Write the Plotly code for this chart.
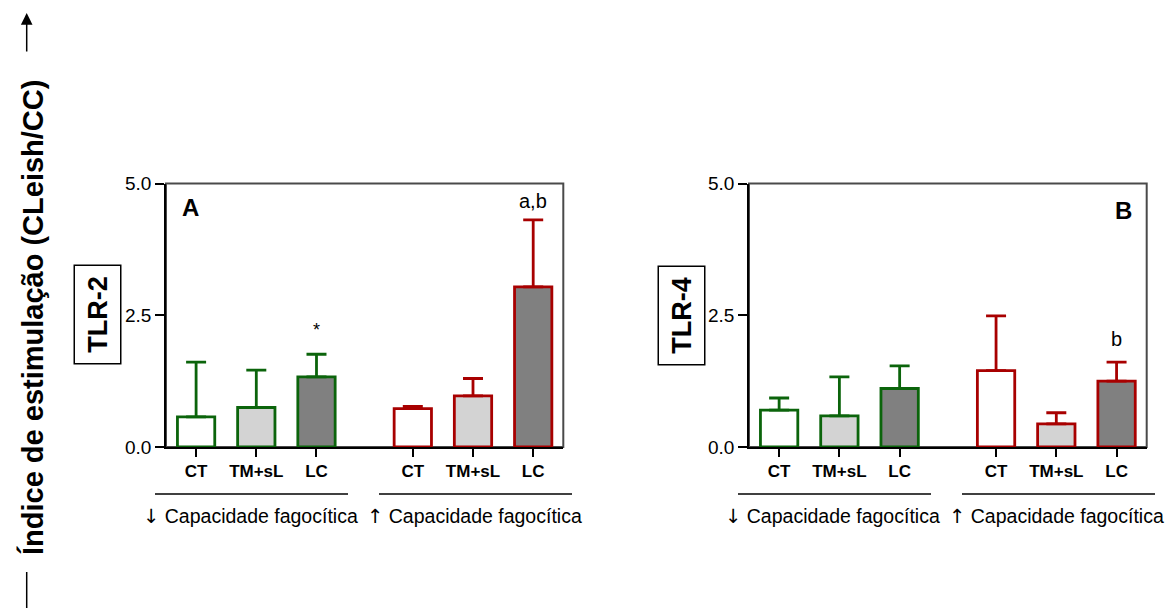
import plotly.graph_objects as go

W, H = 1168, 608

# ---------------- data ----------------
categories = ["CT", "TM+sL", "LC"]
group_arrows = ["↓", "↑"]
group_text = "Capacidade fagocítica"
panel_labels = ["A", "B"]
receptor_labels = ["TLR-2", "TLR-4"]
y_title = "Índice de estimulação (CLeish/CC)"
y_tick_vals = [0.0, 2.5, 5.0]
y_tick_text = ["0.0", "2.5", "5.0"]

# TLR-2 (panel A)
tlr2_low_mean = [0.57, 0.75, 1.33]
tlr2_low_sem = [1.04, 0.71, 0.43]
tlr2_high_mean = [0.73, 0.97, 3.04]
tlr2_high_sem = [0.04, 0.33, 1.27]
# TLR-4 (panel B)
tlr4_low_mean = [0.70, 0.59, 1.11]
tlr4_low_sem = [0.23, 0.74, 0.43]
tlr4_high_mean = [1.45, 0.44, 1.25]
tlr4_high_sem = [1.04, 0.21, 0.36]

# significance marks
sig_text = ["*", "a,b", "b"]
sig_panel = [0, 0, 1]
sig_group = [0, 1, 1]
sig_cat = [2, 2, 2]
sig_y = [2.22, 4.66, 2.04]

# ---------------- styles ----------------
FONT = "Liberation Sans, Arial, sans-serif"
fills = ["#ffffff", "#d3d3d3", "#808080"]
group_colors = ["#0b640b", "#a80000"]
GAP = 0.6
BAR_W = 0.62


def px(x):
    return x / W


def py(y):
    return 1 - y / H


def pos(g, i):
    return g * (len(categories) + GAP) + i


panels = [
    [(tlr2_low_mean, tlr2_low_sem), (tlr2_high_mean, tlr2_high_sem)],
    [(tlr4_low_mean, tlr4_low_sem), (tlr4_high_mean, tlr4_high_sem)],
]
x_domains = [(166, 563.3), (749, 1146.7)]
y_dom = [py(447), py(183.5)]

fig = go.Figure()
shapes = []
annotations = []

for p, groups in enumerate(panels):
    xa = "x" if p == 0 else "x2"
    ya = "y" if p == 0 else "y2"
    for g, (means, sems) in enumerate(groups):
        fig.add_trace(go.Bar(
            x=[pos(g, i) for i in range(len(categories))],
            y=means,
            width=BAR_W,
            marker=dict(color=fills, line=dict(color=group_colors[g], width=2.8)),
            error_y=dict(type="data", array=sems, arrayminus=[0] * len(sems),
                         symmetric=False, color=group_colors[g],
                         thickness=2.8, width=10),
            xaxis=xa, yaxis=ya, showlegend=False, hoverinfo="skip",
        ))
    tickvals = [pos(g, i) for g in range(2) for i in range(len(categories))]
    ticktext = ["<b>%s</b>" % c for g in range(2) for c in categories]
    xkey = "xaxis" if p == 0 else "xaxis2"
    ykey = "yaxis" if p == 0 else "yaxis2"
    fig.update_layout(**{
        xkey: dict(domain=[px(x_domains[p][0]), px(x_domains[p][1])],
                   range=[-0.5, 6.1], tickvals=tickvals, ticktext=ticktext,
                   ticks="outside", ticklen=8, tickwidth=1.5, tickcolor="black",
                   showline=True, linecolor="black", linewidth=1.5,
                   showgrid=False, zeroline=False, anchor=ya, automargin=False,
                   tickfont=dict(family=FONT, size=17, color="black")),
        ykey: dict(domain=y_dom, range=[0, 5], tickvals=y_tick_vals,
                   ticktext=y_tick_text, ticks="outside", ticklen=9,
                   tickwidth=1.5, tickcolor="black", showline=True,
                   linecolor="black", linewidth=1.5, showgrid=False,
                   zeroline=False, anchor=xa, ticklabelstandoff=0, automargin=False,
                   tickfont=dict(family=FONT, size=19, color="black")),
    })
    # frame (top/right)
    dom = "x domain" if p == 0 else "x2 domain"
    ydom = "y domain" if p == 0 else "y2 domain"
    shapes.append(dict(type="rect", xref=dom, yref=ydom, x0=0, x1=1, y0=0, y1=1,
                       line=dict(color="#4a4a4a", width=2), layer="below"))

# significance labels
for t, p, g, c, yv in zip(sig_text, sig_panel, sig_group, sig_cat, sig_y):
    annotations.append(dict(text=t, x=pos(g, c), y=yv,
                            xref="x" if p == 0 else "x2",
                            yref="y" if p == 0 else "y2",
                            showarrow=False, xanchor="center", yanchor="middle",
                            font=dict(family=FONT, size=20 if t != "*" else 18,
                                      color="black")))

# panel letters
for (lx, ly), lab in zip([(190, 207), (1123, 210)], panel_labels):
    annotations.append(dict(text="<b>%s</b>" % lab, x=px(lx), y=py(ly),
                            xref="paper", yref="paper", showarrow=False,
                            xanchor="center", yanchor="middle",
                            font=dict(family=FONT, size=24, color="black")))

# receptor boxes
for (bx, by), lab in zip([(97.5, 315), (681.5, 316)], receptor_labels):
    annotations.append(dict(text="<b>%s</b>" % lab, x=px(bx), y=py(by),
                            xref="paper", yref="paper", showarrow=False,
                            xanchor="center", yanchor="middle",
                            textangle=-90, width=87, height=35,
                            bordercolor="black", borderwidth=1.5, borderpad=5,
                            bgcolor="white",
                            font=dict(family=FONT, size=27, color="black")))

# group brackets + labels
brackets = [
    ((155, 348), 250), ((379, 572), 474),
    ((738, 931), 832), ((962, 1155), 1056),
]
for k, ((x0, x1), tx) in enumerate(brackets):
    shapes.append(dict(type="line", xref="paper", yref="paper",
                       x0=px(x0), x1=px(x1), y0=py(494), y1=py(494),
                       line=dict(color="black", width=1.3)))
    label = ('<span style="font-family:DejaVu Sans">%s</span> %s'
             % (group_arrows[k % 2], group_text))
    annotations.append(dict(text=label, x=px(tx), y=py(516),
                            xref="paper", yref="paper", showarrow=False,
                            xanchor="center", yanchor="middle",
                            font=dict(family=FONT, size=19.5, color="black")))

# global y title with arrow
annotations.append(dict(text="<b>%s</b>" % y_title, x=px(32), y=py(318),
                        xref="paper", yref="paper", showarrow=False,
                        xanchor="center", yanchor="middle",
                        textangle=-90,
                        font=dict(family=FONT, size=29, color="black")))
annotations.append(dict(text="", x=px(26.7), y=py(13), xref="paper", yref="paper",
                        showarrow=True, ax=0, ay=40, arrowhead=2, arrowsize=1.55,
                        arrowwidth=1.5, arrowcolor="black"))
shapes.append(dict(type="line", xref="paper", yref="paper",
                   x0=px(26.7), x1=px(26.7), y0=py(572), y1=py(608),
                   line=dict(color="black", width=1.5)))

fig.update_layout(
    width=W, height=H, autosize=False,
    margin=dict(l=0, r=0, t=0, b=0, pad=0, autoexpand=False),
    paper_bgcolor="white", plot_bgcolor="white",
    barmode="overlay", showlegend=False,
    shapes=shapes, annotations=annotations,
    font=dict(family=FONT, color="black"),
)

fig.write_html("out.html")
